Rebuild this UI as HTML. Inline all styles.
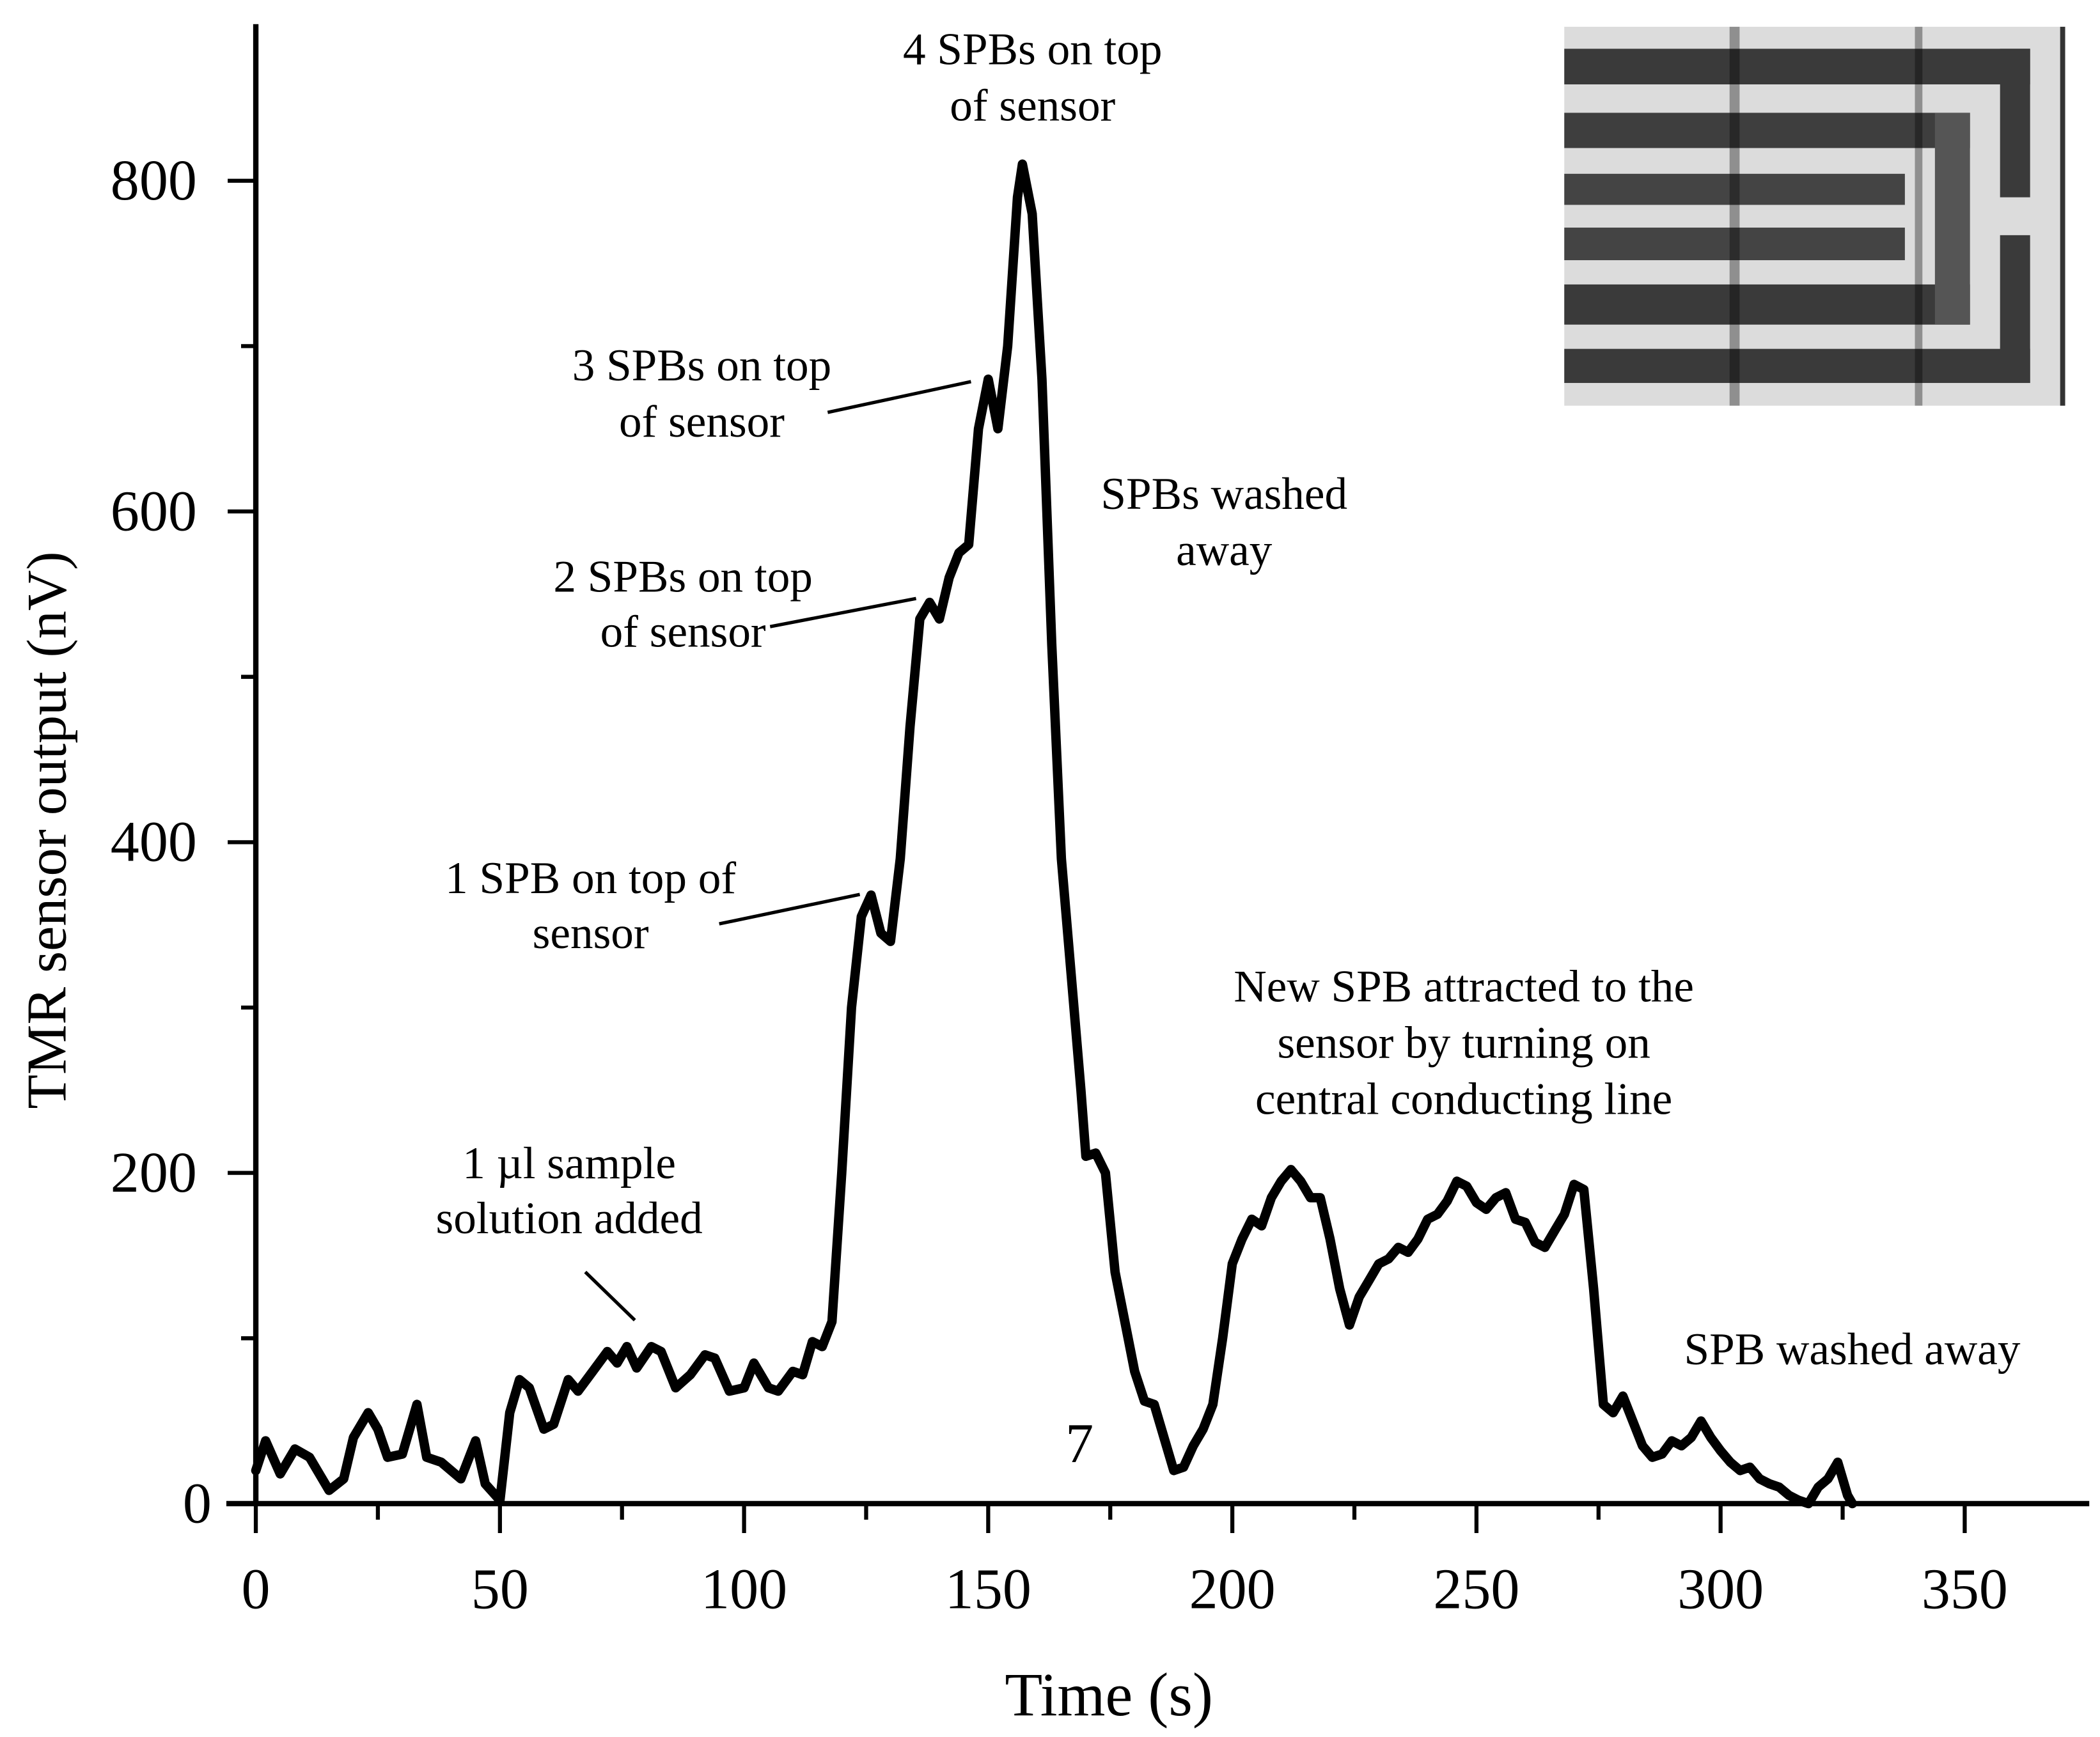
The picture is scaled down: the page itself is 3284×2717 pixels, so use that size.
<!DOCTYPE html>
<html><head><meta charset="utf-8"><style>
html,body{margin:0;padding:0;background:#fff;}
svg{display:block;}
text{font-family:"Liberation Serif",serif;fill:#000;}
</style></head><body>
<svg width="3284" height="2717" viewBox="0 0 1568 1297.3" xmlns="http://www.w3.org/2000/svg">
<g id="inset"></g>
<g id="axes"></g>
<g id="series"></g>
<g font-size="34" text-anchor="middle">
  <text x="771" y="48">4 SPBs on top</text>
  <text x="771" y="90">of sensor</text>
  <text x="524" y="284">3 SPBs on top</text>
  <text x="524" y="326">of sensor</text>
  <line x1="618" y1="308" x2="725" y2="285" stroke="#000" stroke-width="2.5"/>
  <text x="914" y="380">SPBs washed</text>
  <text x="914" y="422">away</text>
  <text x="510" y="442">2 SPBs on top</text>
  <text x="510" y="483">of sensor</text>
  <line x1="575" y1="468" x2="684" y2="447" stroke="#000" stroke-width="2.5"/>
  <text x="441" y="667">1 SPB on top of</text>
  <text x="441" y="708">sensor</text>
  <line x1="537" y1="690" x2="642" y2="668" stroke="#000" stroke-width="2.5"/>
  <text x="1093" y="748">New SPB attracted to the</text>
  <text x="1093" y="790">sensor by turning on</text>
  <text x="1093" y="832">central conducting line</text>
  <text x="425" y="880">1 µl sample</text>
  <text x="425" y="921">solution added</text>
  <line x1="437" y1="950" x2="474" y2="986" stroke="#000" stroke-width="2.5"/>
  <text x="1383" y="1019">SPB washed away</text>
  <text x="806" y="1092" font-size="42">7</text>
</g>
<text x="828" y="1281" font-size="46" text-anchor="middle">Time (s)</text>
<text x="0" y="0" font-size="42" text-anchor="middle" transform="translate(49,620) rotate(-90)">TMR sensor output (nV)</text>
</svg>
<script>
const xTicks = [0, 50, 100, 150, 200, 250, 300, 350];
const yTicks = [0, 200, 400, 600, 800];
const times = [0,2,5,8,11,15,18,20,23,25,27,30,33,35,38,42,45,47,50,52,54,56,59,61,64,66,69,72,74,76,78,81,83,86,89,92,94,97,100,102,105,107,110,112,114,116,118,120,122,124,126,128,130,132,134,136,138,140,142,144,146,148,150,152,154,156,157,159,161,163,165,167,169,170,172,174,176,178,180,182,184,186,188,190,192,194,196,198,200,202,204,206,208,210,212,214,216,218,220,222,224,226,228,230,232,234,236,238,240,242,244,246,248,250,252,254,256,258,260,262,264,266,268,270,272,274,276,278,280,282,284,286,288,290,292,294,296,298,300,302,304,306,308,310,312,314,316,318,320,322,324,326,327];
const values = [20,38,18,33,28,8,15,40,55,45,28,30,60,28,25,15,38,12,2,55,75,70,45,48,75,68,80,92,85,95,82,95,92,70,78,90,88,68,70,85,70,68,80,78,98,95,110,200,300,355,368,345,340,390,470,535,545,535,560,575,580,650,680,650,700,790,810,780,680,520,390,320,250,210,212,200,140,110,80,62,60,40,20,22,35,45,60,100,145,160,172,168,185,195,202,195,185,185,160,130,108,125,135,145,148,155,152,160,172,175,183,195,192,182,178,185,188,172,170,158,155,165,175,193,190,130,60,55,65,50,35,28,30,38,35,40,50,40,32,25,20,22,15,12,10,5,2,0,10,15,25,5,0];

const NS='http://www.w3.org/2000/svg';
const X0=191, PXS=(1467-191)/350, Y0=1123, PXV=(1123-135)/800;
function xs(t){return X0+t*PXS;}
function ys(v){return Y0-v*PXV;}
function mk(tag, attrs, parent){const e=document.createElementNS(NS,tag);for(const k in attrs)e.setAttribute(k,attrs[k]);parent.appendChild(e);return e;}

const axes=document.getElementById('axes');
let e;
e=mk('line',{x1:X0,y1:18,x2:X0,y2:Y0,stroke:'#000','stroke-width':4},axes);


e=mk('line',{x1:X0-22,y1:Y0,x2:1560,y2:Y0,stroke:'#000','stroke-width':4},axes);


xTicks.forEach((t,i)=>{
  const l=mk('line',{x1:xs(t),y1:Y0,x2:xs(t),y2:Y0+22,stroke:'#000','stroke-width':3},axes);
  
  
  if(i<xTicks.length-1){
    const m=mk('line',{x1:xs(t+25),y1:Y0,x2:xs(t+25),y2:Y0+12,stroke:'#000','stroke-width':3},axes);
    
    
  }
  const tx=mk('text',{x:xs(t),y:1201,'font-size':43,'text-anchor':'middle'},axes);
  tx.textContent=String(t);
  
  
});
yTicks.forEach((v,i)=>{
  const l=mk('line',{x1:X0-21,y1:ys(v),x2:X0,y2:ys(v),stroke:'#000','stroke-width':3},axes);
  
  
  if(i<yTicks.length-1){
    const m=mk('line',{x1:X0-11,y1:ys(v+100),x2:X0,y2:ys(v+100),stroke:'#000','stroke-width':3},axes);
    
    
  }
  const tx=mk('text',{x:(v===0?158:147),y:ys(v)+14,'font-size':43,'text-anchor':'end'},axes);
  tx.textContent=String(v);
  
  
});

const series=document.getElementById('series');
const d=times.map((t,i)=>(i?'L':'M')+xs(t).toFixed(1)+','+ys(values[i]).toFixed(1)).join(' ');
const p=mk('path',{d:d,fill:'none',stroke:'#000','stroke-width':7,'stroke-linejoin':'round','stroke-linecap':'round'},series);



// inset micrograph (decorative)
const ins=document.getElementById('inset');
const IX=1168, IY=20, IW=374, IH=283;
function r(x0,y0,x1,y1,fill,name){const q=mk('rect',{x:IX+x0*IW,y:IY+y0*IH,width:(x1-x0)*IW,height:(y1-y0)*IH,fill:fill},ins);}
r(0,0,1,1,'#dcdcdc','inset-background');
r(0,0.058,0.93,0.152,'#3a3a3a','inset-stripe');
r(0,0.227,0.81,0.32,'#3e3e3e','inset-stripe');
r(0,0.388,0.68,0.47,'#444','inset-stripe');
r(0,0.53,0.68,0.616,'#444','inset-stripe');
r(0,0.68,0.81,0.786,'#3a3a3a','inset-stripe');
r(0,0.85,0.93,0.94,'#3a3a3a','inset-stripe');
r(0.74,0.227,0.81,0.786,'#555','inset-stripe');
r(0.87,0.058,0.93,0.45,'#3a3a3a','inset-stripe');
r(0.87,0.55,0.93,0.94,'#3a3a3a','inset-stripe');
r(0.33,0,0.35,1,'rgba(0,0,0,0.35)','inset-line');
r(0.7,0,0.715,1,'rgba(0,0,0,0.35)','inset-line');
r(0.99,0,1,1,'#333','inset-edge');
</script>
</body></html>
